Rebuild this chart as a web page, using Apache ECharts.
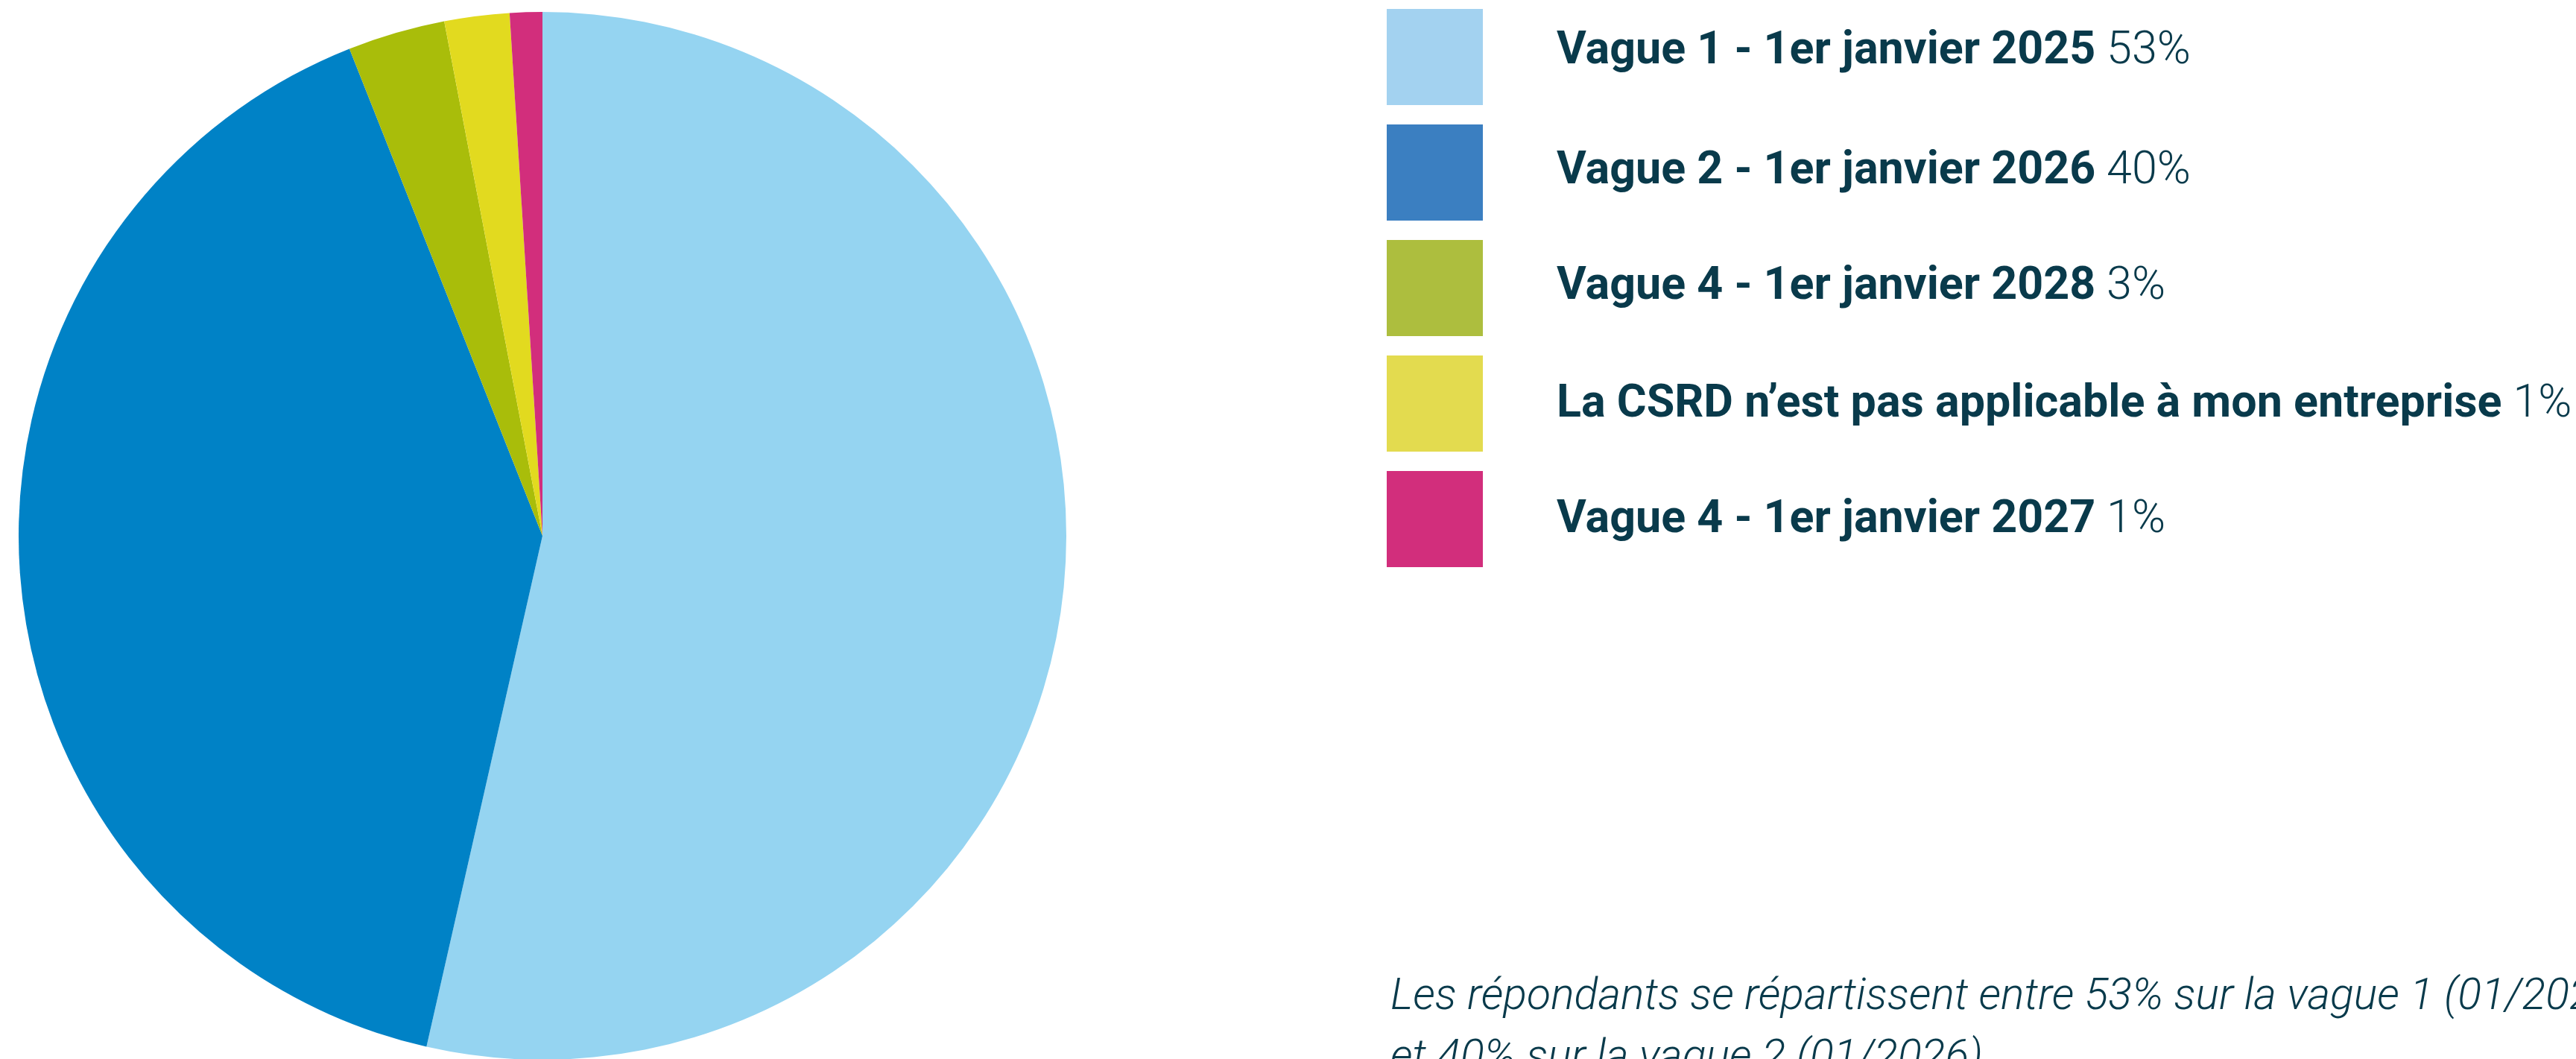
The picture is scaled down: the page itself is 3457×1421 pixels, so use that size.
<!DOCTYPE html>
<html>
<head>
<meta charset="utf-8">
<script src="https://cdn.jsdelivr.net/npm/echarts@6/dist/echarts.min.js"></script>
<style>
  html, body { margin: 0; padding: 0; background: #ffffff; }
  #chart { width: 3457px; height: 1421px; }
</style>
</head>
<body>
<div id="chart"></div>
<script>
// ---- data ----
const categories = [
  "Vague 1 - 1er janvier 2025",
  "Vague 2 - 1er janvier 2026",
  "Vague 4 - 1er janvier 2028",
  "La CSRD n\u2019est pas applicable \u00e0 mon entreprise",
  "Vague 4 - 1er janvier 2027"
];
const values = [53.5, 40.4, 3.0, 2.0, 1.0];
const percentLabels = ["53%", "40%", "3%", "1%", "1%"];
const sliceColors = ["#95d4f1", "#0082c6", "#a9bd0a", "#e2da1f", "#d22e7c"];
const legendColors = ["#a3d2f0", "#3b7fc1", "#adbe3e", "#e3db4f", "#d22e7c"];
const noteLines = [
  "Les r\u00e9pondants se r\u00e9partissent entre 53% sur la vague 1 (01/2025)",
  "et 40% sur la vague 2 (01/2026)"
];

const textColor = "#093a4b";
const fs = 61;
// small per-row vertical nudge of the legend text (positive = up, negative = down), px*2
const rowLift = [14, 2, 2, -4, -4];

function makeRich(lift) {
  const pad = lift >= 0 ? [0, 0, lift, 0] : [-lift, 0, 0, 0];
  return {
    b: { fontFamily: "Roboto", fontWeight: "bold", fontSize: fs, color: textColor, padding: [pad[0], 0, pad[2], 94] },
    s: { fontFamily: "Roboto", fontWeight: 300, fontSize: fs, color: textColor, padding: pad },
    p: { fontFamily: "Roboto", fontWeight: 300, fontSize: fs, color: textColor, padding: pad }
  };
}

const chart = echarts.init(document.getElementById("chart"), null, { renderer: "canvas" });

chart.setOption({
  backgroundColor: "#ffffff",
  animation: false,
  legend: {
    orient: "vertical",
    left: 1861,
    top: 12,
    padding: 0,
    itemWidth: 129,
    itemHeight: 129,
    itemGap: 26,
    icon: "rect",
    selectedMode: false,
    data: categories.map((n, i) => ({
      name: n,
      itemStyle: { color: legendColors[i] },
      textStyle: { fontFamily: "Roboto", fontSize: fs, color: textColor, rich: makeRich(rowLift[i]) }
    })),
    formatter: function (name) {
      const i = categories.indexOf(name);
      return "{b|" + name + "}{s| }{p|" + percentLabels[i] + "}";
    },
    textStyle: {
      fontFamily: "Roboto",
      fontSize: fs,
      color: textColor,
      rich: makeRich(2)
    }
  },
  series: [{
    type: "pie",
    center: [728, 719],
    radius: 703,
    startAngle: 90,
    clockwise: true,
    silent: true,
    label: { show: false },
    labelLine: { show: false },
    itemStyle: { borderWidth: 0 },
    data: categories.map((n, i) => ({ name: n, value: values[i], itemStyle: { color: sliceColors[i] } }))
  }],
  graphic: noteLines.map((t, i) => ({
    type: "text",
    left: 1866,
    top: 1310 + i * 82,
    style: {
      text: t,
      fontFamily: "Roboto",
      fontWeight: 300,
      fontStyle: "italic",
      fontSize: 59,
      fill: textColor
    }
  }))
});
</script>
</body>
</html>
